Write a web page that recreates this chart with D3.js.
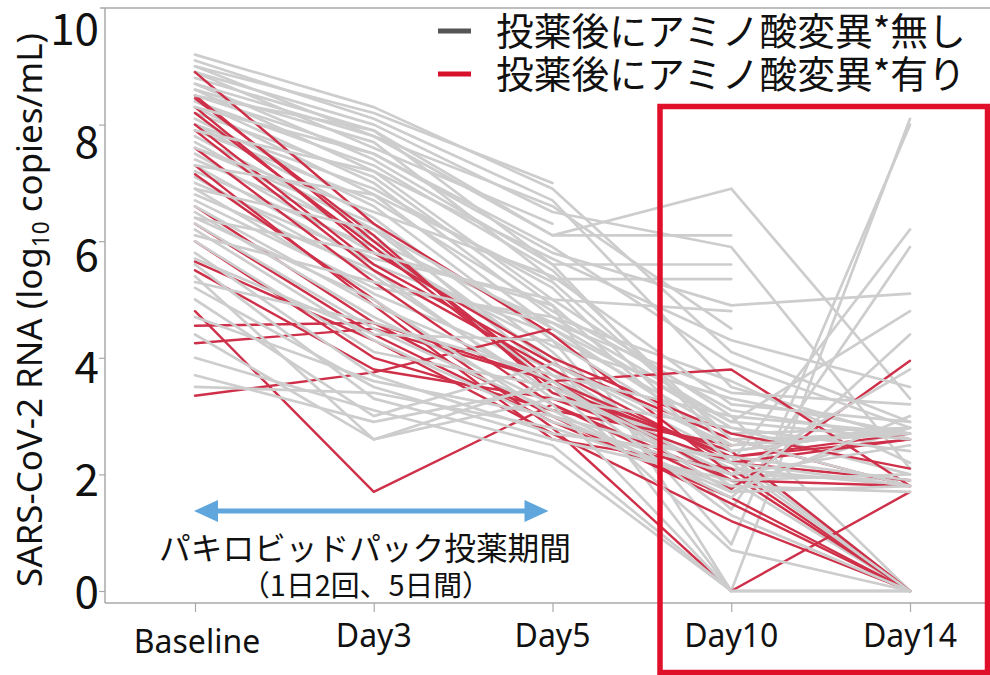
<!DOCTYPE html>
<html>
<head>
<meta charset="utf-8">
<script src="https://cdn.jsdelivr.net/npm/d3@7"></script>
<style>
  body { margin: 0; background: #fff; }
  svg { display: block; }
  text { font-family: "Noto Sans CJK JP", "Noto Sans", sans-serif; fill: #111; }
  .latin { font-family: "Noto Sans", "Open Sans", sans-serif; }
</style>
</head>
<body>
<script>
// Sampling days on the x axis
const timepoints = ["Baseline", "Day3", "Day5", "Day10", "Day14"];
// Viral load ticks (log10 copies/mL)
const yTicks = [0, 2, 4, 6, 8, 10];
const legendLabels = ["投薬後にアミノ酸変異*無し", "投薬後にアミノ酸変異*有り"];
const periodLabel = ["パキロビッドパック投薬期間", "（1日2回、5日間）"];
const axisTitle = ["SARS-CoV-2 RNA (log", "10", " copies/mL)"];

// Per-patient trajectories: [Baseline, Day3, Day5, Day10, Day14]; null = not sampled
const noMutation = [
  [9.2, 8.3, 6.9, 4.1, 2.9],
  [9.1, 8.1, 6.7, 3.5, 2.6],
  [9.0, 7.8, 6.1, 6.9, 3.3],
  [8.9, 8.0, 6.5, 5.9, 2.1],
  [8.9, 7.6, 6.3, null, null],
  [8.8, 7.9, 6.1, 6.1, null],
  [8.7, 7.4, 5.6, 5.6, null],
  [8.6, 7.7, 5.35, 5.35, null],
  [8.6, 7.2, 5.0, 4.8, null],
  [8.5, 7.5, 5.8, 4.9, 5.1],
  [8.4, 7.0, 4.7, 2.9, 4.8],
  [8.4, 7.3, 5.5, 2.6, 2.7],
  [8.3, 6.8, 4.5, 2.5, 2.8],
  [8.2, 7.1, 4.9, 0, 8.1],
  [8.1, 6.6, 4.3, 0.8, 8.0],
  [8.0, 6.9, 5.2, 2.2, 6.2],
  [8.0, 6.4, 4.1, 1.4, 5.9],
  [7.9, 6.7, 4.8, 3.1, 2.6],
  [7.8, 6.2, 3.9, 2.3, 0],
  [7.7, 6.0, 4.6, 2.8, 2.0],
  [7.6, 6.3, 3.7, 1.9, 0],
  [7.5, 5.8, 4.2, 3.3, 2.7],
  [7.4, 6.1, 3.5, 2.1, 1.8],
  [7.3, 5.6, 4.4, 2.7, 2.8],
  [7.2, 5.9, 4.0, 0, 0],
  [7.1, 5.4, 3.4, 2.0, 1.9],
  [7.0, 5.7, 5.0, 3.0, 0],
  [6.9, 5.1, 3.8, 1.8, 2.8],
  [6.8, 5.5, 3.3, 2.4, 0],
  [6.7, 5.2, 4.7, 3.6, 2.2],
  [6.6, 4.9, 3.6, 1.7, 3.0],
  [6.5, 4.7, 3.2, 0, 0],
  [6.4, 5.0, 3.0, 2.2, 1.8],
  [6.3, 4.5, 3.1, 1.6, 4.4],
  [6.2, 4.3, 2.9, 2.0, 2.5],
  [6.0, 4.1, 3.5, 0.7, 0],
  [5.8, 3.7, 2.7, 2.3, 1.9],
  [5.6, 3.3, 2.5, 0, 0],
  [5.4, 2.6, 3.6, 1.3, 0],
  [5.2, 3.5, 2.6, 1.9, 2.0],
  [5.0, 3.0, 3.9, 2.5, 2.7],
  [4.7, 3.6, 3.0, 1.7, 1.8],
  [4.4, 2.6, 3.3, 2.8, 2.4],
  [4.0, 3.1, 2.3, 0, 0],
  [3.7, 2.9, 3.5, 2.0, 3.8],
  [3.5, 3.4, 2.8, 1.8, 1.7],
  [8.7, 7.8, 6.6, 4.5, null],
  [8.3, 7.5, 5.9, 3.9, 2.8],
  [7.9, 7.2, 5.7, 4.3, 3.5],
  [7.6, 6.5, 5.4, 3.2, 2.9],
  [7.3, 6.8, 5.3, 2.6, 1.8],
  [6.9, 6.2, 4.5, 2.9, 2.6],
  [6.4, 5.8, 4.9, 2.2, 0],
  [6.1, 5.3, 4.6, 3.4, 3.2],
  [5.7, 4.4, 4.3, 2.4, 2.8],
  [5.3, 4.6, 3.7, 3.0, 2.7],
  [9.0, 8.2, 7.0, null, null],
  [8.5, 7.9, 5.6, 2.4, 2.8]
];

const withMutation = [
  [8.9, 6.3, 4.4, 2.0, 0],
  [8.5, 6.0, 3.6, 1.9, 1.8],
  [8.45, 6.1, 3.4, 2.4, 0],
  [8.2, 5.9, 3.5, 2.3, 2.7],
  [8.0, 5.6, 3.9, 2.6, 1.8],
  [7.6, 5.3, 3.2, 1.75, 3.95],
  [7.15, 5.0, 2.8, 0, 1.7],
  [6.6, 4.6, 3.6, 3.8, 1.8],
  [7.3, 4.9, 2.6, 2.1, 0],
  [6.3, 4.4, 2.9, 1.6, 0],
  [6.0, 4.0, 3.1, 2.5, null],
  [5.65, 4.3, 2.7, 1.2, 0],
  [5.5, 3.8, 3.3, 2.2, 2.6],
  [4.8, 1.7, 3.2, 1.9, null],
  [4.55, 4.6, 3.0, 1.5, 0],
  [4.25, 4.5, 3.6, 2.3, 2.6],
  [3.35, 3.75, 4.5, null, null],
  [7.9, 5.5, 3.8, 2.2, 1.9],
  [8.3, 5.8, 4.0, 2.7, 2.1]
];

const W = 990, H = 675;
const grayLine = "#cdcdcd", redLine = "#cf3049";
const frameColor = "#a9a9a9";

const svg = d3.select("body").append("svg").attr("width", W).attr("height", H);

// scale a text's font so that it spans the given width
function fitWidth(sel, width) {
  const node = sel.node();
  const fs = parseFloat(sel.attr("font-size"));
  const len = node.getComputedTextLength();
  if (len > 0) sel.attr("font-size", (fs * width / len).toFixed(2));
  return sel;
}

const x = d3.scalePoint().domain(timepoints).range([195, 910]);
const y = d3.scaleLinear().domain([0, 10]).range([591, 8]);
// tick labels sit on their own slightly compressed grid
const yLabel = d3.scaleLinear().domain([0, 10]).range([592, 29]);

const axisLeftX = 105, axisBottomY = 603;

// frame: top border, left and bottom axis lines
svg.append("line").attr("x1", 100).attr("x2", W).attr("y1", y(10)).attr("y2", y(10))
  .attr("stroke", frameColor).attr("stroke-width", 1.5);

const yAxis = svg.append("g").attr("transform", `translate(${axisLeftX},0)`)
  .call(d3.axisLeft(y).tickValues(yTicks.slice(0, -1)).tickSize(6).tickFormat(""));
yAxis.select(".domain").remove();
yAxis.selectAll("line").attr("stroke", frameColor).attr("stroke-width", 1.2);
svg.append("line").attr("x1", axisLeftX).attr("x2", axisLeftX).attr("y1", y(10)).attr("y2", axisBottomY)
  .attr("stroke", frameColor).attr("stroke-width", 1.5);

const yLab = svg.append("g").attr("transform", `translate(99,0)`)
  .call(d3.axisLeft(yLabel).tickValues(yTicks).tickSize(0).tickPadding(0).tickFormat(d3.format("d")));
yLab.select(".domain").remove();
yLab.selectAll("text").attr("font-size", 44).attr("fill", "#111")
  .attr("font-family", '"Noto Sans", "Open Sans", sans-serif').attr("dy", "0.36em");

const xAxis = svg.append("g").attr("transform", `translate(0,${axisBottomY})`)
  .call(d3.axisBottom(x).tickSize(9).tickFormat(""));
xAxis.select(".domain").remove();
xAxis.selectAll("line").attr("stroke", frameColor).attr("stroke-width", 1.2);
svg.append("line").attr("x1", axisLeftX).attr("x2", W).attr("y1", axisBottomY).attr("y2", axisBottomY)
  .attr("stroke", frameColor).attr("stroke-width", 1.5);

svg.append("g").selectAll("text").data(timepoints).join("text")
  .attr("class", "latin")
  .attr("x", d => x(d) + (d === "Baseline" ? 2 : 0))
  .attr("y", d => d === "Baseline" ? 653 : 647)
  .attr("text-anchor", "middle").attr("font-size", 32)
  .text(d => d);

// y axis title with subscript
const title = svg.append("text").attr("class", "latin")
  .attr("transform", "translate(42,310) rotate(-90)")
  .attr("text-anchor", "middle").attr("font-size", 28);
title.append("tspan").text(axisTitle[0]);
title.append("tspan").attr("font-size", "0.65em").attr("dy", 7).text(axisTitle[1]);
title.append("tspan").attr("dy", -7).text(axisTitle[2]);
fitWidth(title, 554);

// trajectories
const line = d3.line()
  .defined(d => d.v != null)
  .x(d => x(d.t))
  .y(d => y(d.v));
const toPts = s => s.map((v, i) => ({ t: timepoints[i], v }));

const lines = svg.append("g").attr("fill", "none")
  .attr("stroke-linejoin", "round").attr("stroke-linecap", "round");

const half = 30;
lines.selectAll("path.g1").data(noMutation.slice(0, half)).join("path")
  .attr("class", "g1").attr("d", s => line(toPts(s)))
  .attr("stroke", grayLine).attr("stroke-width", 2.7);
lines.selectAll("path.r").data(withMutation).join("path")
  .attr("class", "r").attr("d", s => line(toPts(s)))
  .attr("stroke", redLine).attr("stroke-width", 2.4);
lines.selectAll("path.g2").data(noMutation.slice(half)).join("path")
  .attr("class", "g2").attr("d", s => line(toPts(s)))
  .attr("stroke", grayLine).attr("stroke-width", 2.7);

// dosing period: double-headed arrow from Baseline to Day5
const arrowY = 511, headL = 24, headH = 11;
const ax0 = x("Baseline") - 1, ax1 = x("Day5") - 4;
const arrowBlue = "#5fa6dc";
svg.append("line").attr("x1", ax0 + headL - 2).attr("x2", ax1 - headL + 2)
  .attr("y1", arrowY).attr("y2", arrowY).attr("stroke", arrowBlue).attr("stroke-width", 5);
svg.append("path").attr("fill", arrowBlue)
  .attr("d", `M${ax0},${arrowY} L${ax0 + headL},${arrowY - headH} L${ax0 + headL},${arrowY + headH} Z`);
svg.append("path").attr("fill", arrowBlue)
  .attr("d", `M${ax1},${arrowY} L${ax1 - headL},${arrowY - headH} L${ax1 - headL},${arrowY + headH} Z`);

fitWidth(svg.append("text").attr("x", 365).attr("y", 560).attr("text-anchor", "middle")
  .attr("font-size", 30).text(periodLabel[0]), 412);
fitWidth(svg.append("text").attr("x", 366).attr("y", 596).attr("text-anchor", "middle")
  .attr("font-size", 30).text(periodLabel[1]), 250);

// highlight box over the post-treatment follow-up
svg.append("rect").attr("x", 660).attr("y", 106.5).attr("width", 327.5).attr("height", 566)
  .attr("fill", "none").attr("stroke", "#e0102a").attr("stroke-width", 5.5);

// legend
const legend = svg.append("g");
const swatches = ["#555555", "#d7102b"];
legendLabels.forEach((lab, i) => {
  const ly = 31 + i * 43;
  legend.append("line").attr("x1", 438).attr("x2", 471).attr("y1", ly).attr("y2", ly)
    .attr("stroke", swatches[i]).attr("stroke-width", 5);
  fitWidth(legend.append("text").attr("x", 496).attr("y", ly).attr("dy", "0.36em")
    .attr("font-size", 37).text(lab), 470);
});
</script>
</body>
</html>
